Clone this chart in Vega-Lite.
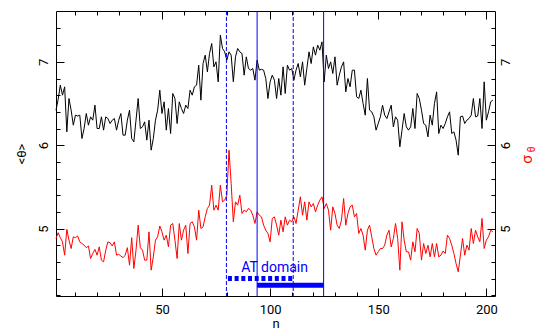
{
  "$schema": "https://vega.github.io/schema/vega-lite/v6.json",
  "width": 439,
  "height": 285,
  "autosize": {"type": "none"},
  "padding": {"left": 56, "top": 11, "right": 42, "bottom": 33},
  "background": "white",
  "config": {
    "view": {"stroke": "black", "strokeWidth": 1},
    "font": "Roboto",
    "axis": {
      "domain": false, "grid": false, "ticks": true, "tickColor": "black", "tickWidth": 1,
      "labelFont": "Roboto", "labelFontSize": 13, "labelColor": "black", "labelFlush": false,
      "titleFont": "Roboto", "titleFontSize": 13, "titleFontWeight": "normal", "titleColor": "black"
    }
  },
  "datasets": {
    "series": [
      {"n":1,"theta":6.42,"sigma":4.88},{"n":2,"theta":6.55,"sigma":4.95},{"n":3,"theta":6.72,"sigma":4.89},{"n":4,"theta":6.60,"sigma":4.84},{"n":5,"theta":6.70,"sigma":4.68},
      {"n":6,"theta":6.16,"sigma":4.99},{"n":7,"theta":6.56,"sigma":4.86},{"n":8,"theta":6.42,"sigma":4.76},{"n":9,"theta":6.24,"sigma":4.90},{"n":10,"theta":6.36,"sigma":4.89},
      {"n":11,"theta":6.35,"sigma":4.91},{"n":12,"theta":6.36,"sigma":4.84},{"n":13,"theta":6.08,"sigma":4.82},{"n":14,"theta":6.20,"sigma":4.80},{"n":15,"theta":6.38,"sigma":4.77},
      {"n":16,"theta":6.24,"sigma":4.79},{"n":17,"theta":6.34,"sigma":4.64},{"n":18,"theta":6.30,"sigma":4.70},{"n":19,"theta":6.48,"sigma":4.75},{"n":20,"theta":6.20,"sigma":4.68},
      {"n":21,"theta":6.20,"sigma":4.78},{"n":22,"theta":6.34,"sigma":4.62},{"n":23,"theta":6.18,"sigma":4.60},{"n":24,"theta":6.34,"sigma":4.74},{"n":25,"theta":6.32,"sigma":4.84},
      {"n":26,"theta":6.26,"sigma":4.83},{"n":27,"theta":6.30,"sigma":4.79},{"n":28,"theta":6.32,"sigma":4.84},{"n":29,"theta":6.18,"sigma":4.68},{"n":30,"theta":6.30,"sigma":4.69},
      {"n":31,"theta":6.38,"sigma":4.67},{"n":32,"theta":6.12,"sigma":4.65},{"n":33,"theta":6.12,"sigma":4.68},{"n":34,"theta":6.30,"sigma":4.77},{"n":35,"theta":6.42,"sigma":4.56},
      {"n":36,"theta":6.08,"sigma":4.89},{"n":37,"theta":6.04,"sigma":4.52},{"n":38,"theta":6.30,"sigma":4.74},{"n":39,"theta":6.56,"sigma":5.04},{"n":40,"theta":6.20,"sigma":4.77},
      {"n":41,"theta":6.22,"sigma":4.74},{"n":42,"theta":6.28,"sigma":4.62},{"n":43,"theta":6.06,"sigma":4.62},{"n":44,"theta":6.30,"sigma":4.96},{"n":45,"theta":5.94,"sigma":4.50},
      {"n":46,"theta":6.08,"sigma":4.66},{"n":47,"theta":6.30,"sigma":4.86},{"n":48,"theta":6.42,"sigma":4.90},{"n":49,"theta":6.66,"sigma":5.03},{"n":50,"theta":6.38,"sigma":4.96},
      {"n":51,"theta":6.52,"sigma":4.86},{"n":52,"theta":6.18,"sigma":4.92},{"n":53,"theta":6.44,"sigma":4.78},{"n":54,"theta":6.14,"sigma":5.04},{"n":55,"theta":6.62,"sigma":5.06},
      {"n":56,"theta":6.56,"sigma":4.86},{"n":57,"theta":6.26,"sigma":4.64},{"n":58,"theta":6.52,"sigma":5.06},{"n":59,"theta":6.44,"sigma":4.86},{"n":60,"theta":6.38,"sigma":4.98},
      {"n":61,"theta":6.48,"sigma":5.04},{"n":62,"theta":6.44,"sigma":4.70},{"n":63,"theta":6.66,"sigma":5.06},{"n":64,"theta":6.60,"sigma":5.08},{"n":65,"theta":6.70,"sigma":5.02},
      {"n":66,"theta":6.72,"sigma":4.86},{"n":67,"theta":6.96,"sigma":5.22},{"n":68,"theta":6.54,"sigma":5.00},{"n":69,"theta":6.98,"sigma":5.02},{"n":70,"theta":7.08,"sigma":5.14},
      {"n":71,"theta":6.88,"sigma":5.24},{"n":72,"theta":7.10,"sigma":5.28},{"n":73,"theta":7.22,"sigma":5.52},{"n":74,"theta":6.94,"sigma":5.22},{"n":75,"theta":7.00,"sigma":5.28},
      {"n":76,"theta":6.76,"sigma":5.22},{"n":77,"theta":7.32,"sigma":5.52},{"n":78,"theta":7.16,"sigma":5.32},{"n":79,"theta":7.12,"sigma":5.34},{"n":80,"theta":7.02,"sigma":5.40},
      {"n":81,"theta":7.12,"sigma":5.94},{"n":82,"theta":7.08,"sigma":5.54},{"n":83,"theta":6.76,"sigma":5.08},{"n":84,"theta":7.06,"sigma":5.32},{"n":85,"theta":7.16,"sigma":5.28},
      {"n":86,"theta":7.12,"sigma":5.40},{"n":87,"theta":7.10,"sigma":5.18},{"n":88,"theta":6.84,"sigma":5.22},{"n":89,"theta":7.06,"sigma":5.20},{"n":90,"theta":6.92,"sigma":5.24},
      {"n":91,"theta":6.90,"sigma":5.22},{"n":92,"theta":6.92,"sigma":5.16},{"n":93,"theta":6.78,"sigma":5.06},{"n":94,"theta":7.02,"sigma":5.20},{"n":95,"theta":6.90,"sigma":5.16},
      {"n":96,"theta":6.91,"sigma":5.14},{"n":97,"theta":6.90,"sigma":5.04},{"n":98,"theta":6.80,"sigma":4.98},{"n":99,"theta":6.56,"sigma":4.94},{"n":100,"theta":6.76,"sigma":4.84},
      {"n":101,"theta":6.84,"sigma":5.12},{"n":102,"theta":6.78,"sigma":5.14},{"n":103,"theta":6.56,"sigma":5.04},{"n":104,"theta":6.80,"sigma":4.92},{"n":105,"theta":6.60,"sigma":5.10},
      {"n":106,"theta":6.94,"sigma":4.96},{"n":107,"theta":6.62,"sigma":5.14},{"n":108,"theta":6.96,"sigma":5.04},{"n":109,"theta":6.90,"sigma":5.10},{"n":110,"theta":6.92,"sigma":5.08},
      {"n":111,"theta":6.78,"sigma":5.14},{"n":112,"theta":6.90,"sigma":5.06},{"n":113,"theta":6.98,"sigma":5.22},{"n":114,"theta":6.82,"sigma":5.38},{"n":115,"theta":7.00,"sigma":5.16},
      {"n":116,"theta":6.72,"sigma":5.32},{"n":117,"theta":6.92,"sigma":5.10},{"n":118,"theta":7.12,"sigma":5.32},{"n":119,"theta":6.98,"sigma":5.26},{"n":120,"theta":7.18,"sigma":5.30},
      {"n":121,"theta":7.08,"sigma":5.20},{"n":122,"theta":7.20,"sigma":5.28},{"n":123,"theta":7.14,"sigma":5.34},{"n":124,"theta":7.24,"sigma":5.38},{"n":125,"theta":6.76,"sigma":5.24},
      {"n":126,"theta":7.08,"sigma":5.30},{"n":127,"theta":6.92,"sigma":5.22},{"n":128,"theta":7.00,"sigma":4.98},{"n":129,"theta":6.86,"sigma":5.26},{"n":130,"theta":7.06,"sigma":5.18},
      {"n":131,"theta":6.72,"sigma":5.04},{"n":132,"theta":6.84,"sigma":5.00},{"n":133,"theta":6.94,"sigma":5.10},{"n":134,"theta":7.00,"sigma":5.36},{"n":135,"theta":6.64,"sigma":5.04},
      {"n":136,"theta":6.80,"sigma":5.18},{"n":137,"theta":6.70,"sigma":5.26},{"n":138,"theta":6.90,"sigma":5.28},{"n":139,"theta":6.90,"sigma":5.14},{"n":140,"theta":6.58,"sigma":5.18},
      {"n":141,"theta":6.56,"sigma":4.94},{"n":142,"theta":6.66,"sigma":5.00},{"n":143,"theta":6.50,"sigma":4.92},{"n":144,"theta":6.36,"sigma":4.74},{"n":145,"theta":6.80,"sigma":4.98},
      {"n":146,"theta":6.42,"sigma":5.04},{"n":147,"theta":6.40,"sigma":4.90},{"n":148,"theta":6.34,"sigma":4.76},{"n":149,"theta":6.18,"sigma":4.68},{"n":150,"theta":6.26,"sigma":4.72},
      {"n":151,"theta":6.34,"sigma":4.76},{"n":152,"theta":6.48,"sigma":4.76},{"n":153,"theta":6.36,"sigma":4.80},{"n":154,"theta":6.32,"sigma":4.92},{"n":155,"theta":6.40,"sigma":4.98},
      {"n":156,"theta":6.48,"sigma":4.78},{"n":157,"theta":6.22,"sigma":4.88},{"n":158,"theta":6.34,"sigma":5.06},{"n":159,"theta":6.30,"sigma":4.88},{"n":160,"theta":5.98,"sigma":4.50},
      {"n":161,"theta":6.18,"sigma":5.08},{"n":162,"theta":6.38,"sigma":4.86},{"n":163,"theta":6.22,"sigma":4.72},{"n":164,"theta":6.18,"sigma":4.72},{"n":165,"theta":6.22,"sigma":4.62},
      {"n":166,"theta":6.44,"sigma":4.84},{"n":167,"theta":6.20,"sigma":4.72},{"n":168,"theta":6.62,"sigma":5.00},{"n":169,"theta":6.56,"sigma":4.94},{"n":170,"theta":6.42,"sigma":4.62},
      {"n":171,"theta":6.26,"sigma":4.82},{"n":172,"theta":6.24,"sigma":4.70},{"n":173,"theta":6.10,"sigma":4.80},{"n":174,"theta":6.36,"sigma":4.66},{"n":175,"theta":6.24,"sigma":4.82},
      {"n":176,"theta":6.50,"sigma":4.66},{"n":177,"theta":6.64,"sigma":4.82},{"n":178,"theta":6.14,"sigma":4.66},{"n":179,"theta":6.24,"sigma":4.68},{"n":180,"theta":6.20,"sigma":4.73},
      {"n":181,"theta":6.26,"sigma":4.70},{"n":182,"theta":6.34,"sigma":4.92},{"n":183,"theta":6.40,"sigma":4.88},{"n":184,"theta":6.14,"sigma":4.80},{"n":185,"theta":6.16,"sigma":4.70},
      {"n":186,"theta":6.06,"sigma":4.58},{"n":187,"theta":5.88,"sigma":4.48},{"n":188,"theta":6.34,"sigma":4.68},{"n":189,"theta":6.35,"sigma":4.88},{"n":190,"theta":6.26,"sigma":4.68},
      {"n":191,"theta":6.30,"sigma":4.80},{"n":192,"theta":6.32,"sigma":4.74},{"n":193,"theta":6.36,"sigma":5.00},{"n":194,"theta":6.56,"sigma":4.82},{"n":195,"theta":6.34,"sigma":4.98},
      {"n":196,"theta":6.35,"sigma":4.90},{"n":197,"theta":6.56,"sigma":4.84},{"n":198,"theta":6.20,"sigma":5.12},{"n":199,"theta":6.76,"sigma":4.76},{"n":200,"theta":6.30,"sigma":4.86},
      {"n":201,"theta":6.40,"sigma":4.90},{"n":202,"theta":6.52,"sigma":4.98},{"n":203,"theta":6.54,"sigma":4.96}
    ],
    "vdash": [{"n": 79.8}, {"n": 110.7}],
    "vsolid": [{"n": 94}, {"n": 124.75}],
    "bardash": [{"start": 80.5, "end": 110.7, "level": 4.40}],
    "barsolid": [{"start": 94, "end": 124.75, "level": 4.32}],
    "label": [{"n": 102.1, "level": 4.48, "text": "AT domain"}]
  },
  "layer": [
    {
      "data": {"name": "series"},
      "mark": {"type": "line", "color": "black", "strokeWidth": 1},
      "encoding": {
        "x": {"field": "n", "type": "quantitative", "scale": {"domain": [1, 204], "nice": false, "zero": false},
              "axis": {"orient": "bottom", "values": [50, 100, 150, 200], "tickSize": -8, "labelPadding": 15, "title": "n", "titleY": 31, "titleBaseline": "alphabetic"}},
        "y": {"field": "theta", "type": "quantitative", "scale": {"domain": [4.19, 7.61], "nice": false, "zero": false},
              "axis": {"orient": "left", "values": [5, 6, 7], "tickSize": -8, "labelAngle": -90, "labelAlign": "center", "labelBaseline": "bottom", "labelPadding": 14, "title": "<θ>", "titlePadding": 9}}
      }
    },
    {
      "data": {"name": "series"},
      "mark": {"type": "line", "color": "#ff0000", "strokeWidth": 1},
      "encoding": {
        "x": {"field": "n", "type": "quantitative", "scale": {"domain": [1, 204], "nice": false, "zero": false},
              "axis": {"orient": "bottom", "values": [10, 20, 30, 40, 60, 70, 80, 90, 110, 120, 130, 140, 160, 170, 180, 190], "tickSize": -4, "labels": false, "title": null}},
        "y": {"field": "sigma", "type": "quantitative", "scale": {"domain": [4.19, 7.61], "nice": false, "zero": false},
              "axis": {"orient": "left", "values": [4.2, 4.4, 4.6, 4.8, 5.2, 5.4, 5.6, 5.8, 6.2, 6.4, 6.6, 6.8, 7.2, 7.4], "tickSize": -4, "labels": false, "title": null}}
      }
    },
    {
      "data": {"name": "vdash"},
      "mark": {"type": "rule", "color": "#0000ff", "strokeWidth": 1, "strokeDash": [4, 2]},
      "encoding": {
        "x": {"field": "n", "type": "quantitative", "scale": {"domain": [1, 204], "nice": false, "zero": false},
              "axis": {"orient": "top", "values": [50, 100, 150, 200], "tickSize": -8, "labels": false, "title": null}}
      }
    },
    {
      "data": {"name": "vsolid"},
      "mark": {"type": "rule", "color": "#0000ff", "strokeWidth": 1},
      "encoding": {
        "x": {"field": "n", "type": "quantitative", "scale": {"domain": [1, 204], "nice": false, "zero": false},
              "axis": {"orient": "top", "values": [10, 20, 30, 40, 60, 70, 80, 90, 110, 120, 130, 140, 160, 170, 180, 190], "tickSize": -4, "labels": false, "title": null}}
      }
    },
    {
      "data": {"name": "bardash"},
      "mark": {"type": "rule", "color": "#0000ff", "strokeWidth": 5, "strokeDash": [4, 2.7], "strokeCap": "butt"},
      "encoding": {
        "x": {"field": "start", "type": "quantitative", "scale": {"domain": [1, 204], "nice": false, "zero": false}, "axis": null},
        "x2": {"field": "end"},
        "y": {"field": "level", "type": "quantitative", "scale": {"domain": [4.19, 7.61], "nice": false, "zero": false},
              "axis": {"orient": "right", "values": [5, 6, 7], "tickSize": -8, "labelAngle": -90, "labelAlign": "center", "labelBaseline": "top", "labelPadding": 12,
                       "title": "σ", "titleColor": "#ff0000", "titleFontSize": 15, "titleAngle": 270, "titleAlign": "center", "titleBaseline": "alphabetic", "titleX": 36, "titleY": 148}}
      }
    },
    {
      "data": {"name": "barsolid"},
      "mark": {"type": "rule", "color": "#0000ff", "strokeWidth": 5, "strokeCap": "butt"},
      "encoding": {
        "x": {"field": "start", "type": "quantitative", "scale": {"domain": [1, 204], "nice": false, "zero": false}, "axis": null},
        "x2": {"field": "end"},
        "y": {"field": "level", "type": "quantitative", "scale": {"domain": [4.19, 7.61], "nice": false, "zero": false},
              "axis": {"orient": "right", "values": [4.2, 4.4, 4.6, 4.8, 5.2, 5.4, 5.6, 5.8, 6.2, 6.4, 6.6, 6.8, 7.2, 7.4], "tickSize": -4, "labels": false,
                       "title": "θ", "titleColor": "#ff0000", "titleFontSize": 10, "titleAngle": 270, "titleAlign": "center", "titleBaseline": "alphabetic", "titleX": 39, "titleY": 138}}
      }
    },
    {
      "data": {"name": "label"},
      "mark": {"type": "text", "color": "#0000ff", "fontSize": 14, "font": "Roboto", "align": "center", "baseline": "alphabetic"},
      "encoding": {
        "x": {"field": "n", "type": "quantitative", "scale": {"domain": [1, 204], "nice": false, "zero": false}, "axis": null},
        "y": {"field": "level", "type": "quantitative", "scale": {"domain": [4.19, 7.61], "nice": false, "zero": false}, "axis": null},
        "text": {"field": "text"}
      }
    }
  ],
  "resolve": {"axis": {"x": "independent", "y": "independent"}}
}
